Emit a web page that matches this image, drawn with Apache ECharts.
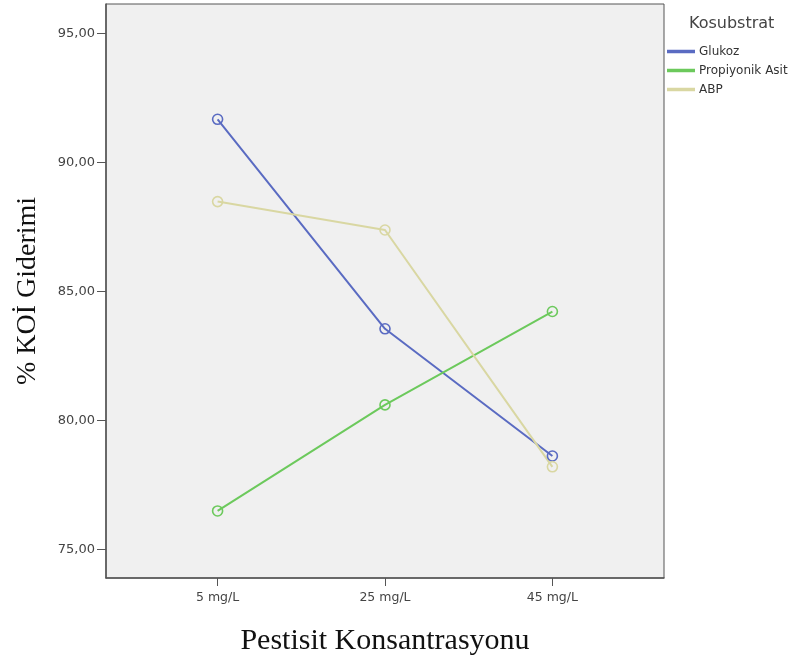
<!DOCTYPE html>
<html>
<head>
<meta charset="utf-8">
<script src="https://cdn.jsdelivr.net/npm/echarts@6/dist/echarts.min.js"></script>
<style>
  html, body { margin: 0; padding: 0; background: #fff; }
  #chart { width: 801px; height: 666px; }
</style>
</head>
<body>
<div id="chart"></div>
<script>
// categories on the x axis
const concentrations = ["5 mg/L", "25 mg/L", "45 mg/L"];
// % KOİ removal per co-substrate
const glukoz = [91.67, 83.55, 78.62];
const propiyonikAsit = [76.49, 80.60, 84.22];
const abp = [88.48, 87.38, 78.20];
const yTicks = [75, 80, 85, 90, 95];

const toPoints = (vals) => vals.map((v, i) => [i, v]);

const lineSeries = (name, vals, color) => ({
  name: name,
  type: "line",
  data: toPoints(vals),
  symbol: "circle",
  symbolSize: 10,
  lineStyle: { color: color, width: 2 },
  itemStyle: { color: "rgba(0,0,0,0)", borderColor: color, borderWidth: 1.6 },
  emphasis: { disabled: true },
});

const chart = echarts.init(document.getElementById("chart"));

const option = {
  animation: false,
  title: {
    text: "Kosubstrat",
    left: 689,
    top: 16,
    padding: 0,
    textStyle: { fontFamily: "DejaVu Sans", fontSize: 16, fontWeight: "normal", color: "#444" },
  },
  legend: {
    orient: "vertical",
    left: 667,
    top: 45,
    padding: 0,
    itemWidth: 26,
    itemHeight: 1.5,
    itemGap: 6,
    icon: "rect",
    textStyle: { fontFamily: "DejaVu Sans", fontSize: 12, color: "#333", lineHeight: 13 },
    data: ["Glukoz", "Propiyonik Asit", "ABP"],
  },
  grid: {
    left: 106,
    right: 137,
    top: 4,
    bottom: 88,
    show: true,
    backgroundColor: "#f0f0f0",
    borderColor: "#555",
    borderWidth: 1,
  },
  xAxis: {
    type: "value",
    min: -2 / 3,
    max: 2 + 2 / 3,
    name: "Pestisit Konsantrasyonu",
    nameLocation: "middle",
    nameGap: 48,
    nameTextStyle: { fontFamily: "Liberation Serif", fontSize: 30, color: "#111" },
    splitLine: { show: false },
    axisLine: { onZero: false, lineStyle: { color: "#555", width: 1.5 } },
    axisTick: { length: 8, lineStyle: { color: "#555" }, customValues: [0, 1, 2] },
    axisLabel: {
      customValues: [0, 1, 2],
      formatter: (v) => concentrations[Math.round(v)],
      fontFamily: "DejaVu Sans",
      fontSize: 12.5,
      color: "#444",
      margin: 13,
    },
  },
  yAxis: {
    type: "value",
    min: 73.89,
    max: 96.14,
    name: "% KOİ Giderimi",
    nameLocation: "middle",
    nameGap: 64,
    nameTextStyle: { fontFamily: "Liberation Serif", fontSize: 28, color: "#111" },
    splitLine: { show: false },
    axisLine: { show: true, onZero: false, lineStyle: { color: "#555", width: 1.5 } },
    axisTick: { show: true, length: 9, lineStyle: { color: "#555" }, customValues: yTicks },
    axisLabel: {
      customValues: yTicks,
      formatter: (v) => v.toFixed(2).replace(".", ","),
      fontFamily: "DejaVu Sans",
      fontSize: 13,
      color: "#444",
      margin: 11,
    },
  },
  series: [
    lineSeries("Glukoz", glukoz, "#5a6bc2"),
    lineSeries("Propiyonik Asit", propiyonikAsit, "#6cc95c"),
    lineSeries("ABP", abp, "#d9d7a2"),
  ],
};

chart.setOption(option);
</script>
</body>
</html>
